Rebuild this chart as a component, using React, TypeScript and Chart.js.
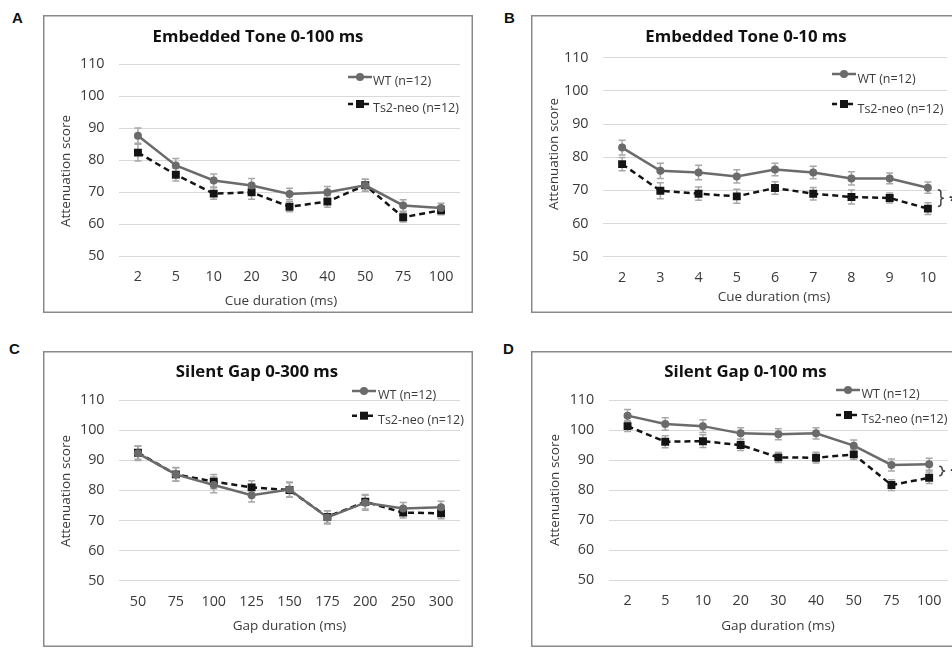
import React, { useEffect, useRef } from 'react';
import { Chart, registerables } from 'chart.js';

Chart.register(...registerables);

const FONT = '"Open Sans", Lato, "DejaVu Sans", sans-serif';

// ---------- data ----------
const seriesNames = ['WT (n=12)', 'Ts2-neo (n=12)'];
const yTicks = [50, 60, 70, 80, 90, 100, 110];

// Panel A – Embedded Tone 0-100 ms
const cueLabelsA = ['2', '5', '10', '20', '30', '40', '50', '75', '100'];
const wtA = [87.6, 78.3, 73.6, 72.0, 69.4, 69.9, 72.1, 65.8, 65.0];
const ts2A = [82.3, 75.4, 69.5, 69.9, 65.4, 67.0, 72.1, 62.1, 64.3];
const wtErrA = [2.4, 2.2, 2.0, 2.2, 1.8, 1.8, 1.9, 1.8, 1.5];
const ts2ErrA = [2.6, 2.0, 1.8, 2.2, 1.6, 1.8, 1.9, 1.5, 1.4];

// Panel B – Embedded Tone 0-10 ms
const cueLabelsB = ['2', '3', '4', '5', '6', '7', '8', '9', '10'];
const wtB = [82.9, 75.9, 75.4, 74.2, 76.3, 75.4, 73.6, 73.6, 70.8];
const ts2B = [77.9, 69.9, 69.0, 68.2, 70.7, 69.0, 68.0, 67.7, 64.5];
const wtErrB = [2.2, 2.3, 2.2, 2.0, 1.9, 1.9, 2.0, 1.6, 1.7];
const ts2ErrB = [2.0, 2.4, 2.0, 2.1, 1.9, 1.9, 2.1, 1.5, 1.8];

// Panel C – Silent Gap 0-300 ms
const gapLabelsC = ['50', '75', '100', '125', '150', '175', '200', '250', '300'];
const wtC = [92.3, 85.3, 81.8, 78.4, 80.3, 71.0, 75.9, 74.0, 74.4];
const ts2C = [92.5, 85.3, 82.9, 81.0, 80.1, 71.2, 76.2, 72.6, 72.4];
const wtErrC = [2.4, 2.3, 2.6, 2.3, 2.5, 2.2, 2.5, 2.0, 2.0];
const ts2ErrC = [2.2, 2.2, 2.4, 2.2, 2.4, 2.0, 2.4, 1.8, 1.8];

// Panel D – Silent Gap 0-100 ms
const gapLabelsD = ['2', '5', '10', '20', '30', '40', '50', '75', '100'];
const wtD = [104.8, 102.0, 101.3, 98.9, 98.6, 98.9, 94.8, 88.4, 88.6];
const ts2D = [101.3, 96.1, 96.3, 95.0, 90.9, 90.8, 91.9, 81.7, 84.1];
const wtErrD = [2.0, 2.1, 2.1, 1.9, 1.8, 1.9, 1.9, 2.0, 2.0];
const ts2ErrD = [1.8, 2.0, 2.1, 1.8, 1.7, 1.8, 1.7, 1.8, 1.9];

// ---------- layout / styling (not data) ----------
type Panel = {
  letter: string; title: string; xTitle: string; labels: string[];
  wt: number[]; ts2: number[]; wtErr: number[]; ts2Err: number[];
  brace: boolean;
  left: number; top: number; width: number; height: number;
  area: { l: number; t: number; r: number; b: number };
  titlePos: { x: number; y: number };
  yTitlePos: { x: number; y: number };
  xTitlePos: { x: number; y: number };
  legend: { x: number; y1: number; y2: number; tx: number; dy: number };
  letterPos: { x: number; y: number };
};

const panels: Panel[] = [
  {
    letter: 'A', title: 'Embedded Tone 0-100 ms', xTitle: 'Cue duration (ms)', labels: cueLabelsA,
    wt: wtA, ts2: ts2A, wtErr: wtErrA, ts2Err: ts2ErrA, brace: false,
    left: 43, top: 15, width: 430, height: 298,
    area: { l: 76, t: 49, r: 417, b: 241 },
    titlePos: { x: 215, y: 22 }, yTitlePos: { x: 23, y: 156 }, xTitlePos: { x: 238, y: 286 },
    legend: { x: 305, y1: 62, y2: 89, tx: 330, dy: 4 }, letterPos: { x: 12, y: 9 },
  },
  {
    letter: 'B', title: 'Embedded Tone 0-10 ms', xTitle: 'Cue duration (ms)', labels: cueLabelsB,
    wt: wtB, ts2: ts2B, wtErr: wtErrB, ts2Err: ts2ErrB, brace: true,
    left: 531, top: 15, width: 430, height: 298,
    area: { l: 72, t: 42.7, r: 416, b: 241.7 },
    titlePos: { x: 215, y: 22 }, yTitlePos: { x: 23, y: 139 }, xTitlePos: { x: 243, y: 282 },
    legend: { x: 301, y1: 59, y2: 89, tx: 326.5, dy: 5 }, letterPos: { x: 504, y: 9 },
  },
  {
    letter: 'C', title: 'Silent Gap 0-300 ms', xTitle: 'Gap duration (ms)', labels: gapLabelsC,
    wt: wtC, ts2: ts2C, wtErr: wtErrC, ts2Err: ts2ErrC, brace: false,
    left: 43, top: 351, width: 430, height: 296,
    area: { l: 76, t: 49, r: 417, b: 229.7 },
    titlePos: { x: 214, y: 21.7 }, yTitlePos: { x: 23, y: 140 }, xTitlePos: { x: 246.5, y: 274.7 },
    legend: { x: 309, y1: 40, y2: 64.7, tx: 335, dy: 4.5 }, letterPos: { x: 9, y: 340 },
  },
  {
    letter: 'D', title: 'Silent Gap 0-100 ms', xTitle: 'Gap duration (ms)', labels: gapLabelsD,
    wt: wtD, ts2: ts2D, wtErr: wtErrD, ts2Err: ts2ErrD, brace: true,
    left: 531, top: 351, width: 430, height: 296,
    area: { l: 77.7, t: 49, r: 417, b: 229.3 },
    titlePos: { x: 214.5, y: 21.7 }, yTitlePos: { x: 24, y: 139 }, xTitlePos: { x: 247, y: 274.7 },
    legend: { x: 305, y1: 39, y2: 64, tx: 330.5, dy: 4.5 }, letterPos: { x: 503, y: 340 },
  },
];

const WT_COLOR = '#6b6b6b';
const TS_COLOR = '#141414';
const ERR_COLOR = '#a8a8a8';
const TEXT_COLOR = '#3a3a3a';

function drawMarker(ctx: CanvasRenderingContext2D, kind: 'circle' | 'rect', x: number, y: number, color: string) {
  ctx.fillStyle = color;
  ctx.beginPath();
  if (kind === 'circle') ctx.arc(x, y, 4, 0, Math.PI * 2);
  else ctx.rect(x - 4, y - 4, 8, 8);
  ctx.fill();
}

function makePlugin(p: Panel) {
  return {
    id: 'decor' + p.letter,
    beforeDraw(chart: any) {
      const { ctx, width, height } = chart;
      ctx.save();
      ctx.fillStyle = '#ffffff';
      ctx.fillRect(0, 0, width, height);
      ctx.strokeStyle = '#8a8a8a';
      ctx.lineWidth = 1.5;
      ctx.strokeRect(0.75, 0.75, width - 1.5, height - 1.5);
      ctx.restore();
    },
    beforeDatasetsDraw(chart: any) {
      const { ctx } = chart;
      const yScale = chart.scales.y;
      const errs = [p.wtErr, p.ts2Err];
      const vals = [p.wt, p.ts2];
      ctx.save();
      ctx.strokeStyle = ERR_COLOR;
      ctx.lineWidth = 1.5;
      for (let d = 0; d < 2; d++) {
        const meta = chart.getDatasetMeta(d);
        meta.data.forEach((pt: any, i: number) => {
          const x = pt.x;
          const yHi = yScale.getPixelForValue(vals[d][i] + errs[d][i]);
          const yLo = yScale.getPixelForValue(vals[d][i] - errs[d][i]);
          ctx.beginPath();
          ctx.moveTo(x, yHi); ctx.lineTo(x, yLo);
          ctx.moveTo(x - 3.5, yHi); ctx.lineTo(x + 3.5, yHi);
          ctx.moveTo(x - 3.5, yLo); ctx.lineTo(x + 3.5, yLo);
          ctx.stroke();
        });
      }
      ctx.restore();
    },
    afterDraw(chart: any) {
      const { ctx } = chart;
      ctx.save();
      // chart title
      ctx.fillStyle = '#111';
      ctx.font = `bold 16.8px ${FONT}`;
      ctx.textAlign = 'center';
      ctx.textBaseline = 'middle';
      ctx.fillText(p.title, p.titlePos.x, p.titlePos.y);
      // axis titles
      ctx.fillStyle = TEXT_COLOR;
      ctx.font = `13.5px ${FONT}`;
      ctx.fillText(p.xTitle, p.xTitlePos.x, p.xTitlePos.y);
      ctx.save();
      ctx.translate(p.yTitlePos.x, p.yTitlePos.y);
      ctx.rotate(-Math.PI / 2);
      ctx.fillText('Attenuation score', 0, 0);
      ctx.restore();
      // legend
      const L = p.legend;
      const segLen = 24;
      ctx.lineWidth = 2.5;
      ctx.strokeStyle = WT_COLOR;
      ctx.setLineDash([]);
      ctx.beginPath(); ctx.moveTo(L.x, L.y1); ctx.lineTo(L.x + segLen, L.y1); ctx.stroke();
      drawMarker(ctx, 'circle', L.x + segLen / 2, L.y1, WT_COLOR);
      ctx.strokeStyle = TS_COLOR;
      ctx.setLineDash([5, 3]);
      ctx.beginPath(); ctx.moveTo(L.x, L.y2); ctx.lineTo(L.x + segLen, L.y2); ctx.stroke();
      ctx.setLineDash([]);
      drawMarker(ctx, 'rect', L.x + segLen / 2, L.y2, TS_COLOR);
      ctx.fillStyle = TEXT_COLOR;
      ctx.font = `12.5px ${FONT}`;
      ctx.textAlign = 'left';
      ctx.fillText(seriesNames[0], L.tx, L.y1 + L.dy);
      ctx.fillText(seriesNames[1], L.tx, L.y2 + L.dy);
      // significance brace
      if (p.brace) {
        const last = p.labels.length - 1;
        const xs = chart.scales.x.getPixelForValue(last) + 12;
        const yA = chart.scales.y.getPixelForValue(p.wt[last]) + 2;
        const yB = chart.scales.y.getPixelForValue(p.ts2[last]) - 2;
        const ym = (yA + yB) / 2;
        ctx.strokeStyle = '#444';
        ctx.lineWidth = 1.5;
        ctx.beginPath();
        ctx.moveTo(xs - 2, yA);
        ctx.quadraticCurveTo(xs + 1, yA, xs + 1, yA + 3);
        ctx.lineTo(xs + 1, ym - 2);
        ctx.quadraticCurveTo(xs + 1, ym, xs + 4, ym);
        ctx.quadraticCurveTo(xs + 1, ym, xs + 1, ym + 2);
        ctx.lineTo(xs + 1, yB - 3);
        ctx.quadraticCurveTo(xs + 1, yB, xs - 2, yB);
        ctx.stroke();
        ctx.fillStyle = '#333';
        ctx.font = `bold 16px ${FONT}`;
        ctx.textAlign = 'left';
        ctx.fillText('*', xs + 9, ym + 3);
      }
      ctx.restore();
    },
  };
}

function PanelChart({ p }: { p: Panel }) {
  const ref = useRef<HTMLCanvasElement | null>(null);
  useEffect(() => {
    if (!ref.current) return;
    const a = p.area;
    const chart = new Chart(ref.current, {
      type: 'line',
      data: {
        labels: p.labels,
        datasets: [
          {
            label: seriesNames[0],
            data: p.wt,
            borderColor: WT_COLOR,
            backgroundColor: WT_COLOR,
            borderWidth: 2.5,
            pointStyle: 'circle',
            pointRadius: 4,
            pointBorderWidth: 0,
            pointBackgroundColor: WT_COLOR,
            tension: 0,
          },
          {
            label: seriesNames[1],
            data: p.ts2,
            borderColor: TS_COLOR,
            backgroundColor: TS_COLOR,
            borderWidth: 2.5,
            borderDash: [6, 4],
            pointStyle: 'rect',
            pointRadius: 5.6,
            pointBorderWidth: 0,
            pointBackgroundColor: TS_COLOR,
            tension: 0,
          },
        ],
      },
      options: {
        animation: false,
        responsive: false,
        maintainAspectRatio: false,
        layout: { padding: { top: a.t, right: p.width - a.r, bottom: 0, left: 0 } },
        plugins: { legend: { display: false }, title: { display: false }, tooltip: { enabled: false } },
        scales: {
          x: {
            type: 'category',
            offset: true,
            grid: { display: false, drawTicks: false },
            border: { display: false },
            ticks: { color: TEXT_COLOR, font: { family: FONT, size: 14.3 }, padding: 12.4, maxRotation: 0, autoSkip: false },
            afterFit: (s: any) => { s.height = p.height - a.b; s.paddingLeft = 0; s.paddingRight = 0; },
          },
          y: {
            min: 50,
            max: 110,
            grid: { color: '#d9d9d9', lineWidth: 1, drawTicks: false },
            border: { display: false },
            ticks: { color: TEXT_COLOR, font: { family: FONT, size: 14.3 }, padding: 14.5 },
            afterBuildTicks: (s: any) => { s.ticks = yTicks.map((v) => ({ value: v })); },
            afterFit: (s: any) => { s.width = a.l; },
          },
        },
      } as any,
      plugins: [makePlugin(p) as any],
    });
    return () => chart.destroy();
  }, [p]);
  return (
    <canvas
      ref={ref}
      width={p.width}
      height={p.height}
      style={{ position: 'absolute', left: p.left, top: p.top, width: p.width, height: p.height, display: 'block' }}
    />
  );
}

export default function App() {
  return (
    <div style={{ position: 'absolute', left: 0, top: 0, width: 952, height: 648, overflow: 'hidden', background: '#fff' }}>
      {panels.map((p) => (
        <React.Fragment key={p.letter}>
          <div
            style={{
              position: 'absolute', left: p.letterPos.x, top: p.letterPos.y,
              fontFamily: '"Liberation Sans", Arial, sans-serif', fontWeight: 'bold', fontSize: 15, lineHeight: '17px', color: '#111',
            }}
          >
            {p.letter}
          </div>
          <PanelChart p={p} />
        </React.Fragment>
      ))}
    </div>
  );
}
